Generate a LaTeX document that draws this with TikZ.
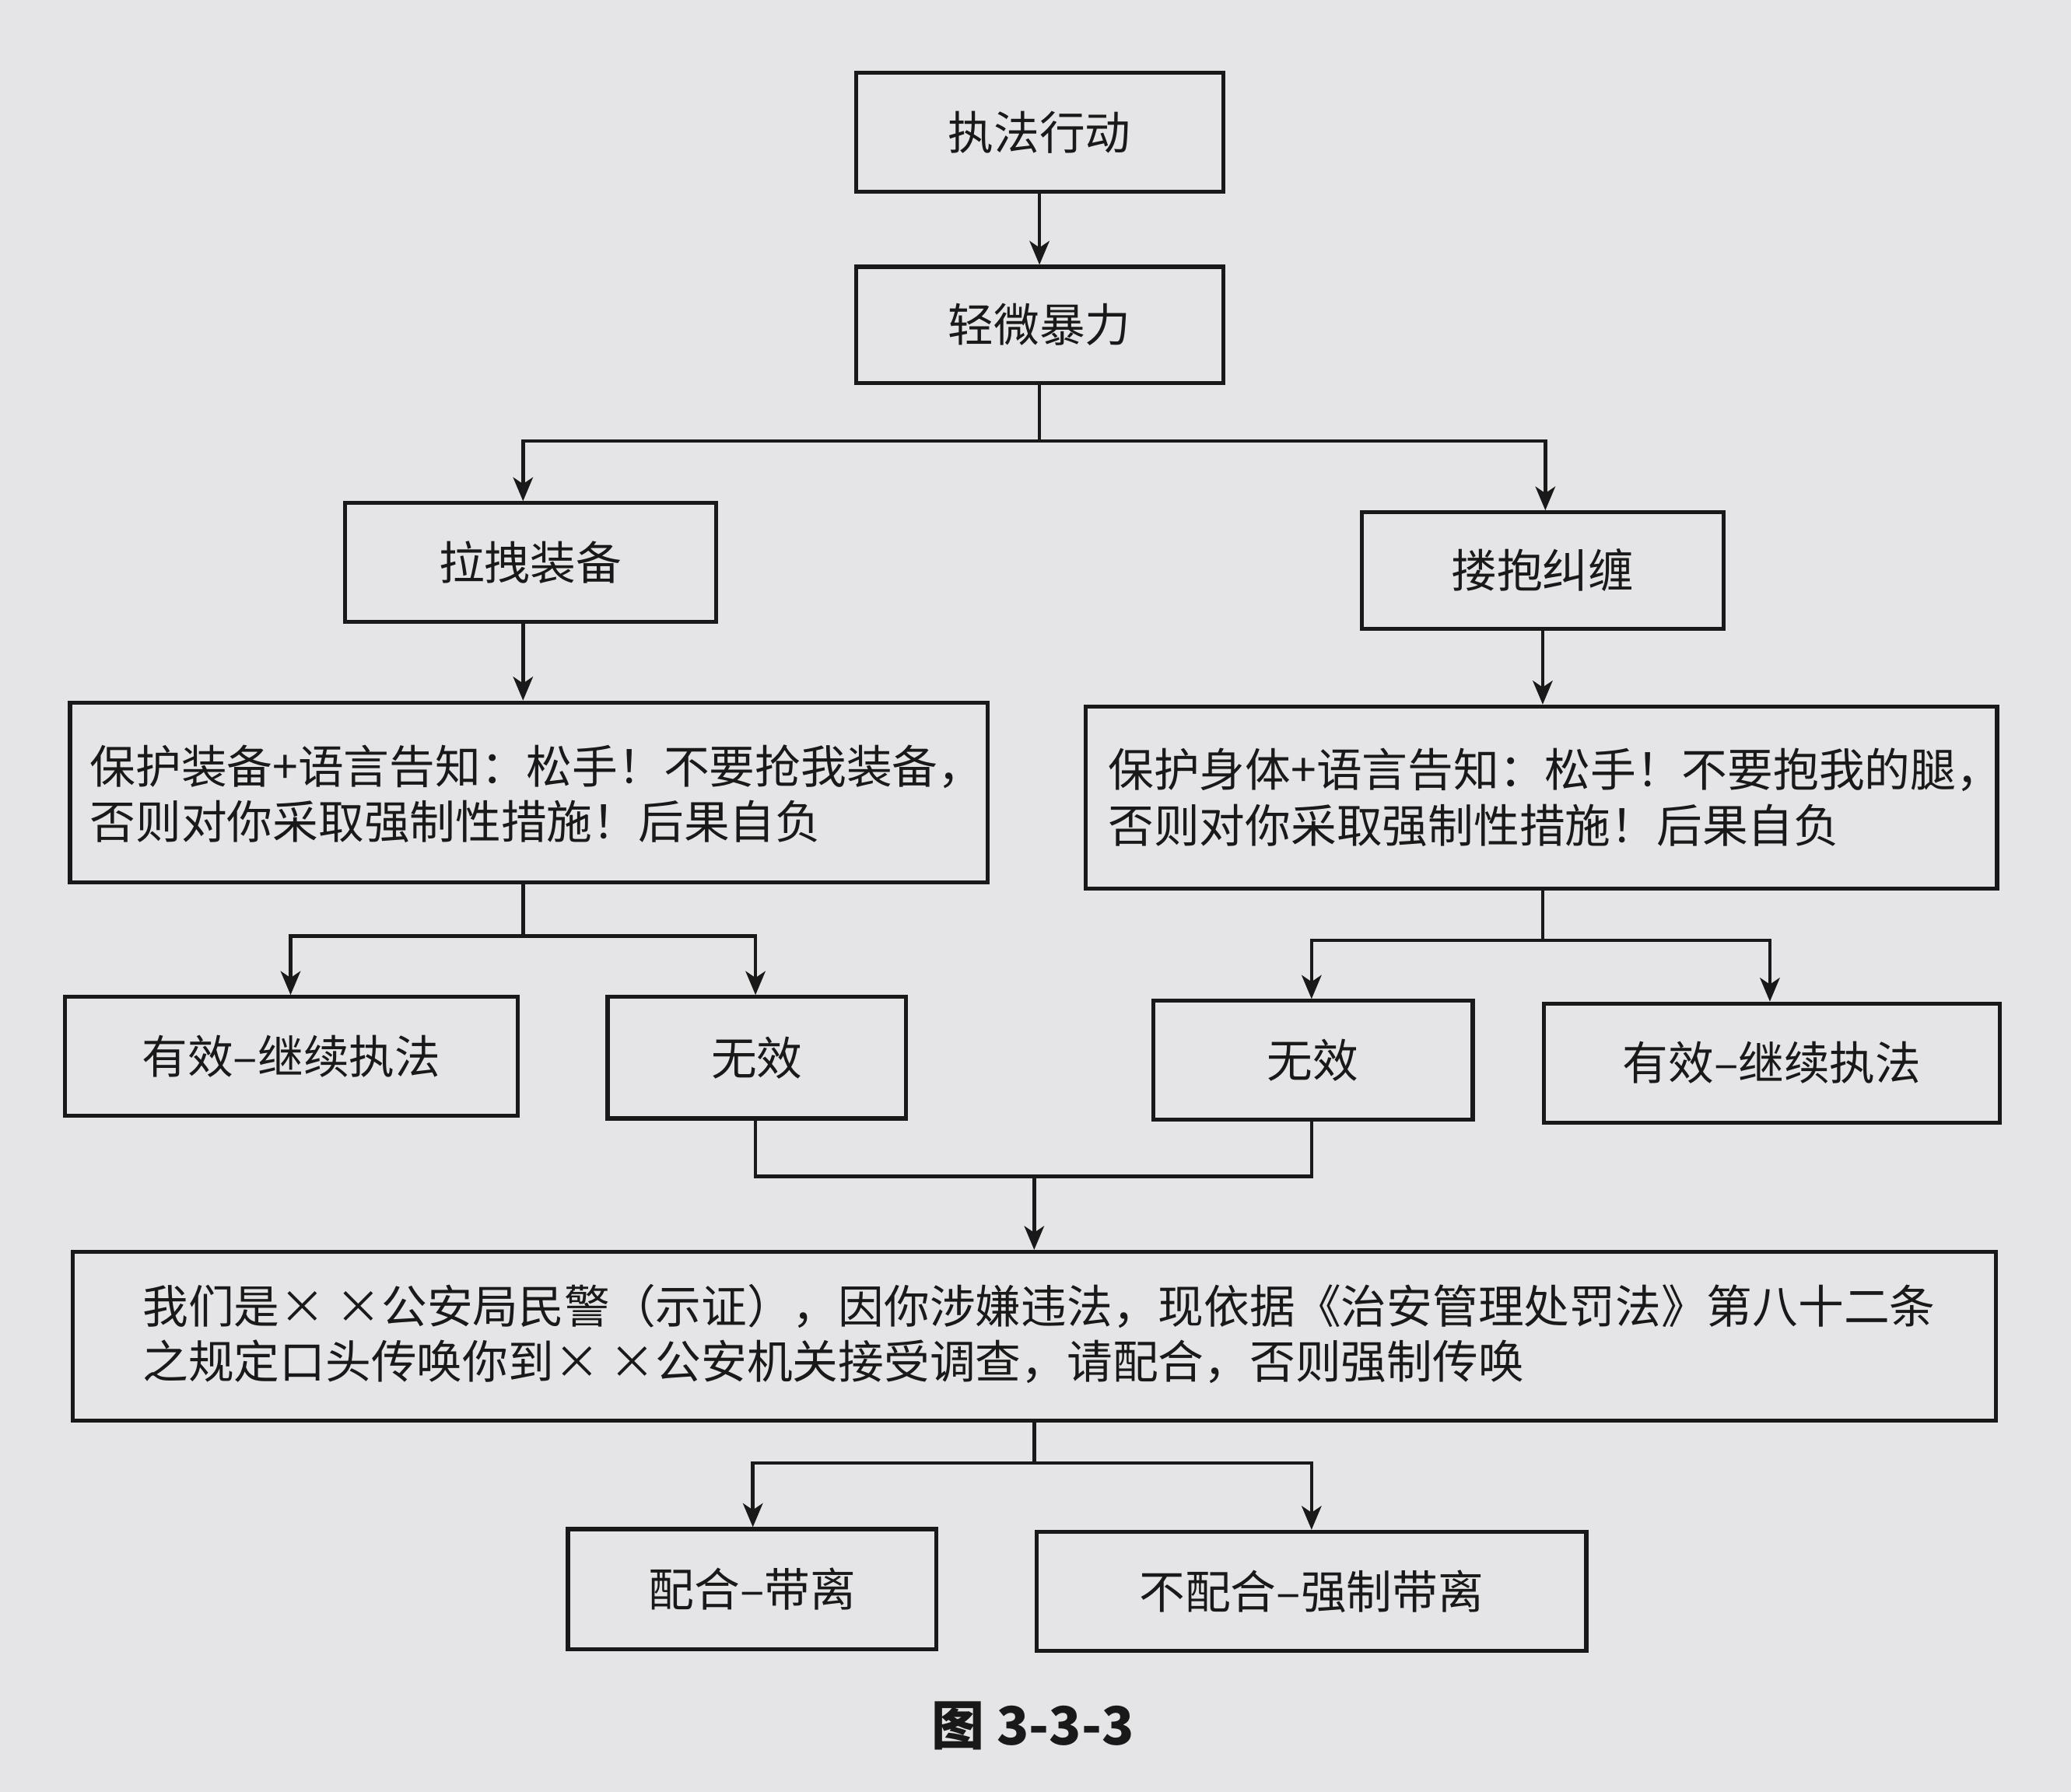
\documentclass[tikz,border=0pt]{standalone}
\usepackage{fontspec}
\newfontfamily\cjk{Noto Sans CJK SC}
\usetikzlibrary{arrows.meta}
\definecolor{paper}{RGB}{229,229,231}
\definecolor{ink}{RGB}{25,25,25}
\begin{document}
\begin{tikzpicture}[x=0.5pt,y=-0.5pt,
  every node/.style={font=\cjk\fontsize{17.3}{21}\selectfont, text=ink},
  box/.style={draw=ink, line width=1.5pt, inner sep=0pt},
  conn/.style={draw=ink, line width=1.3pt},
  arr/.style={conn, -{Stealth[length=9pt,width=7.5pt,inset=2.5pt]}}]
\fill[paper] (0,0) rectangle (1568,1357);
\useasboundingbox (0,0) rectangle (1568,1357);

% boxes
\node[box, minimum width=139pt, minimum height=45pt] (n1) at (787,100) {执法行动};
\node[box, minimum width=139pt, minimum height=44pt] (n2) at (787,246) {轻微暴力};
\node[box, minimum width=140.5pt, minimum height=45pt] (n3) at (401.5,426) {拉拽装备};
\node[box, minimum width=137pt, minimum height=44pt] (n4) at (1168,432) {搂抱纠缠};
\node[box, minimum width=347.5pt, minimum height=68pt] (n5) at (400.5,600) {};
\node[anchor=west, align=left] (t5) at (61,601) {保护装备+语言告知：松手！不要抢我装备，\\否则对你采取强制性措施！后果自负};
\node[box, minimum width=345pt, minimum height=69pt] (n6) at (1167,604) {};
\node[anchor=west, align=left] (t6) at (832,604) {保护身体+语言告知：松手！不要抱我的腿，\\否则对你采取强制性措施！后果自负};
\node[box, minimum width=171.5pt, minimum height=45pt] (n7) at (220.5,800) {有效–继续执法};
\node[box, minimum width=113pt, minimum height=46pt] (n8) at (573,801) {无效};
\node[box, minimum width=121pt, minimum height=45pt] (n9) at (994,803) {无效};
\node[box, minimum width=172.5pt, minimum height=45pt] (n10) at (1341.5,805) {有效–继续执法};
\node[box, minimum width=728pt, minimum height=64pt] (n11) at (783,1012) {};
\node[anchor=west, align=left] (t11) at (101,1010) {我们是× ×公安局民警（示证），因你涉嫌违法，现依据《治安管理处罚法》第八十二条\\之规定口头传唤你到× ×公安机关接受调查，请配合，否则强制传唤};
\node[box, minimum width=139.5pt, minimum height=45.5pt] (n12) at (569.5,1203.5) {配合–带离};
\node[box, minimum width=208pt, minimum height=45pt] (n13) at (993,1205) {不配合–强制带离};
\node[font=\cjk\bfseries\fontsize{20}{24}\selectfont] (cap) at (782,1307) {图 3-3-3};

% junction coordinates
\coordinate (j2) at (787,334);
\coordinate (j5) at (396,709);
\coordinate (j6) at (1168,712);
\coordinate (jm) at (783,891);
\coordinate (j11) at (783,1108);

% connectors
\draw[arr] (n1) -- (n2);
\draw[conn] (n2.south) -- (j2);
\draw[arr] (j2) -| (n3.north -| 396,0);
\draw[arr] (j2) -| (n4.north -| 1170,0);
\draw[arr] (n3.south -| 396,0) -- (n5.north -| 396,0);
\draw[arr] (n4.south -| 1168,0) -- (n6.north -| 1168,0);
\draw[conn] (n5.south -| j5) -- (j5);
\draw[arr] (j5) -| (n7.north -| 220,0);
\draw[arr] (j5) -| (n8.north -| 572,0);
\draw[conn] (n6.south -| j6) -- (j6);
\draw[arr] (j6) -| (n9.north -| 993,0);
\draw[arr] (j6) -| (n10.north -| 1340,0);
\draw[conn] (n8.south -| 572,0) |- (jm) -| (n9.south -| 993,0);
\draw[arr] (jm) -- (n11.north -| jm);
\draw[conn] (n11.south -| j11) -- (j11);
\draw[arr] (j11) -| (n12.north -| 570,0);
\draw[arr] (j11) -| (n13.north -| 993,0);
\end{tikzpicture}
\end{document}
